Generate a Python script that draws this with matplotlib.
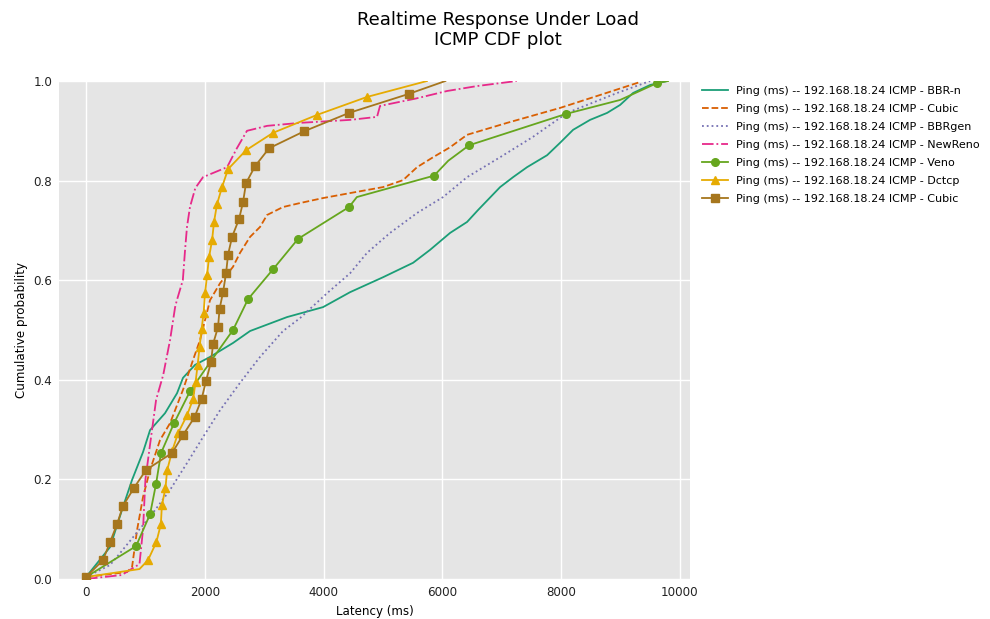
import matplotlib
matplotlib.use("Agg")
import matplotlib.pyplot as plt

# ---- data (latency in ms, cumulative probability) ----
bbrn_x = [0, 404, 623, 775, 960, 1078, 1330, 1532, 1633, 1836, 2088, 2475, 2762, 3385, 3991,
          4446, 5001, 5507, 5793, 6130, 6416, 6601, 6972, 7191, 7426, 7763, 7982, 8201, 8487,
          8774, 8993, 9211, 9498, 9784]
bbrn_y = [0.004, 0.064, 0.145, 0.199, 0.255, 0.299, 0.333, 0.373, 0.404, 0.430, 0.446, 0.474,
          0.498, 0.526, 0.546, 0.576, 0.606, 0.635, 0.661, 0.695, 0.717, 0.741, 0.787, 0.807,
          0.827, 0.851, 0.876, 0.902, 0.922, 0.936, 0.952, 0.976, 0.992, 1.0]

cubic_x = [0, 690, 775, 859, 960, 1078, 1246, 1415, 1633, 1802, 1920, 2004, 2088, 2257, 2475,
           2593, 2762, 2930, 3048, 3317, 3604, 3991, 4446, 5001, 5338, 5574, 5844, 6130, 6416,
           7090, 7982, 8656, 9329]
cubic_y = [0.004, 0.014, 0.024, 0.098, 0.165, 0.219, 0.279, 0.313, 0.380, 0.440, 0.480, 0.520,
           0.560, 0.594, 0.627, 0.655, 0.687, 0.707, 0.731, 0.747, 0.755, 0.765, 0.775, 0.787,
           0.801, 0.827, 0.847, 0.867, 0.892, 0.916, 0.946, 0.972, 0.998]

bbrgen_x = [0, 404, 573, 792, 1128, 1415, 1701, 1970, 2257, 2593, 2930, 3317, 3604, 4059, 4446,
            4732, 5119, 5574, 6012, 6416, 6972, 7527, 8100, 8942, 9498]
bbrgen_y = [0.004, 0.028, 0.052, 0.084, 0.133, 0.179, 0.233, 0.285, 0.339, 0.394, 0.446, 0.498,
            0.524, 0.574, 0.614, 0.655, 0.695, 0.735, 0.767, 0.807, 0.847, 0.888, 0.936, 0.976, 1.0]

newreno_x = [0, 600, 900, 960, 1000, 1078, 1180, 1300, 1415, 1500, 1530, 1630, 1667, 1700,
             1750, 1840, 1970, 2375, 2540, 2710, 3050, 3600, 4450, 4900, 4950, 5560, 6080, 6590, 7250]
newreno_y = [0.0, 0.008, 0.030, 0.100, 0.200, 0.270, 0.360, 0.410, 0.480, 0.546, 0.560, 0.600,
             0.660, 0.707, 0.747, 0.785, 0.807, 0.827, 0.865, 0.900, 0.910, 0.916, 0.922, 0.928,
             0.950, 0.965, 0.980, 0.990, 1.0]

veno_x = [0, 842, 1078, 1179, 1263, 1482, 1751, 2105, 2475, 2728, 3149, 3570, 4429, 4560, 5860,
          6100, 6450, 8083, 8993, 9616, 9800]
veno_y = [0.004, 0.066, 0.130, 0.191, 0.253, 0.313, 0.377, 0.438, 0.500, 0.562, 0.622, 0.683,
          0.747, 0.767, 0.810, 0.840, 0.871, 0.934, 0.962, 0.996, 1.0]
veno_marks = [0, 1, 2, 3, 4, 5, 6, 7, 8, 9, 10, 11, 12, 14, 16, 17, 19]

dctcp_x = [0, 900, 1044, 1184, 1260, 1277, 1338, 1365, 1450, 1550, 1701, 1802, 1845, 1879, 1912,
           1946, 1980, 2004, 2038, 2071, 2122, 2155, 2206, 2290, 2391, 2694, 3149, 3890, 4730, 5740]
dctcp_y = [0.004, 0.020, 0.038, 0.074, 0.110, 0.148, 0.183, 0.218, 0.257, 0.293, 0.329, 0.361,
           0.396, 0.430, 0.466, 0.502, 0.534, 0.574, 0.610, 0.646, 0.680, 0.717, 0.753, 0.787,
           0.823, 0.861, 0.896, 0.932, 0.968, 1.0]
dctcp_marks = [0] + list(range(2, 29))

cubic2_x = [0, 286, 404, 522, 623, 808, 1010, 1448, 1633, 1827, 1945, 2021, 2105, 2139, 2223,
            2248, 2307, 2358, 2391, 2459, 2577, 2644, 2694, 2846, 3082, 3671, 4429, 5431, 6050]
cubic2_y = [0.004, 0.038, 0.074, 0.110, 0.147, 0.183, 0.219, 0.253, 0.289, 0.325, 0.361, 0.398,
            0.436, 0.472, 0.506, 0.542, 0.576, 0.614, 0.651, 0.687, 0.723, 0.757, 0.795, 0.829,
            0.865, 0.899, 0.936, 0.974, 1.0]
cubic2_marks = list(range(0, 28))

labels = ["Ping (ms) -- 192.168.18.24 ICMP - BBR-n",
          "Ping (ms) -- 192.168.18.24 ICMP - Cubic",
          "Ping (ms) -- 192.168.18.24 ICMP - BBRgen",
          "Ping (ms) -- 192.168.18.24 ICMP - NewReno",
          "Ping (ms) -- 192.168.18.24 ICMP - Veno",
          "Ping (ms) -- 192.168.18.24 ICMP - Dctcp",
          "Ping (ms) -- 192.168.18.24 ICMP - Cubic"]
colors = ["#1b9e77", "#d95f02", "#7570b3", "#e7298a", "#66a61e", "#e6ab02", "#a6761d"]

fig = plt.figure(figsize=(9.9, 6.19), dpi=100)
ax = fig.add_axes([0.0596, 0.0646, 0.6374, 0.8045])
ax.set_facecolor("#e5e5e5")
for s in ax.spines.values():
    s.set_visible(False)
ax.grid(True, color="white", linewidth=1.0)
ax.set_axisbelow(True)

lw = 1.3
ax.plot(bbrn_x, bbrn_y, color=colors[0], lw=lw, ls="-", label=labels[0])
ax.plot(cubic_x, cubic_y, color=colors[1], lw=lw, ls="--", label=labels[1])
ax.plot(bbrgen_x, bbrgen_y, color=colors[2], lw=lw, ls=":", label=labels[2])
ax.plot(newreno_x, newreno_y, color=colors[3], lw=lw, ls="-.", label=labels[3])
ax.plot(veno_x, veno_y, color=colors[4], lw=lw, ls="-", marker="o", ms=5.5,
        markevery=veno_marks, label=labels[4])
ax.plot(dctcp_x, dctcp_y, color=colors[5], lw=lw, ls="-", marker="^", ms=5.8,
        markevery=dctcp_marks, label=labels[5])
ax.plot(cubic2_x, cubic2_y, color=colors[6], lw=lw, ls="-", marker="s", ms=5.5,
        markevery=cubic2_marks, label=labels[6])

ax.set_xlim(-455, 10170)
ax.set_ylim(0, 1.0)
ax.set_xticks([0, 2000, 4000, 6000, 8000, 10000])
ax.set_yticks([0.0, 0.2, 0.4, 0.6, 0.8, 1.0])
ax.tick_params(length=0, labelsize=8.6, pad=5, colors="#222222")
ax.set_xlabel("Latency (ms)", fontsize=8.6, labelpad=4)
ax.set_ylabel("Cumulative probability", fontsize=8.6, labelpad=4)

fig.text(0.503, 0.983, "Realtime Response Under Load\nICMP CDF plot", ha="center", va="top",
         fontsize=13.1, linespacing=1.2)

fig.legend(loc="upper left", bbox_to_anchor=(0.705, 0.868), frameon=False, fontsize=8.0,
           handlelength=2.3, handletextpad=0.7, labelspacing=0.72, borderaxespad=0)

fig.savefig("out.png", dpi=100)
